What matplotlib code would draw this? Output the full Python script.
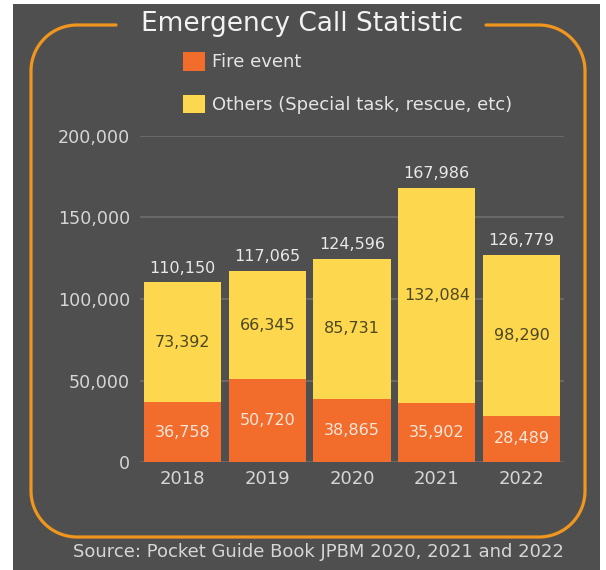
import numpy as np
import matplotlib
matplotlib.use("Agg")
import matplotlib.pyplot as plt
from matplotlib.lines import Line2D
from matplotlib.patches import Rectangle
from matplotlib.transforms import IdentityTransform
from matplotlib.ticker import FuncFormatter

years = ["2018", "2019", "2020", "2021", "2022"]
fire_events = [36758, 50720, 38865, 35902, 28489]
other_calls = [73392, 66345, 85731, 132084, 98290]
totals = [110150, 117065, 124596, 167986, 126779]
y_ticks = [0, 50000, 100000, 150000, 200000]

title = "Emergency Call Statistic"
fire_label = "Fire event"
other_label = "Others (Special task, rescue, etc)"
source = "Source: Pocket Guide Book JPBM 2020, 2021 and 2022"

W, H = 606, 570
BG = "#4f4f4f"
FRAME = "#f0961e"
FIRE = "#f26d2b"
OTHER = "#fdd84e"

plt.rcParams["font.family"] = ["DejaVu Sans"]

fig = plt.figure(figsize=(W / 100, H / 100), dpi=100, facecolor="white")


def fx(px):
    return px / W


def fy(py):
    return 1 - py / H


# dark panel
fig.add_artist(Rectangle((fx(13), fy(570)), fx(600) - fx(13), fy(4) - fy(570),
                         transform=fig.transFigure, facecolor=BG, edgecolor="none", zorder=0))

# rounded orange frame with a gap for the title
L, R, T, B, r = 31, 585, 25, 537, 46


def arc(cx, cy, a0, a1):
    t = np.linspace(np.radians(a0), np.radians(a1), 30)
    return cx + r * np.cos(t), cy + r * np.sin(t)


xs, ys = [116], [T]
ax_, ay_ = arc(L + r, T + r, 270, 180)
xs += list(ax_); ys += list(ay_)
ax_, ay_ = arc(L + r, B - r, 180, 90)
xs += list(ax_); ys += list(ay_)
ax_, ay_ = arc(R - r, B - r, 90, 0)
xs += list(ax_); ys += list(ay_)
ax_, ay_ = arc(R - r, T + r, 0, -90)
xs += list(ax_); ys += list(ay_)
xs += [486]; ys += [T]
fig.add_artist(Line2D(np.array(xs), H - np.array(ys), transform=IdentityTransform(),
                      color=FRAME, lw=2.3, solid_capstyle="round", zorder=1))

fig.text(fx(302), fy(24), title, ha="center", va="center", fontsize=19, color="#f2f2f2")
fig.text(fx(318), fy(552), source, ha="center", va="center", fontsize=13, color="#d6d6d6")

ax = fig.add_axes([fx(140), fy(462), fx(564) - fx(140), fy(136) - fy(462)])
ax.set_facecolor("none")
x = np.arange(len(years))
bw = 0.91
fire_bars = ax.bar(x, fire_events, width=bw, color=FIRE, zorder=3, label=fire_label)
other_bars = ax.bar(x, other_calls, width=bw, bottom=fire_events, color=OTHER, zorder=3,
                    label=other_label)

for xi, f, o, t in zip(x, fire_events, other_calls, totals):
    ax.text(xi, f / 2, f"{f:,}", ha="center", va="center", fontsize=11.5, color="#fde5da", zorder=4)
    ax.text(xi, f + o / 2, f"{o:,}", ha="center", va="center", fontsize=11.5, color="#4d4721", zorder=4)
    ax.annotate(f"{t:,}", (xi, t), xytext=(0, 5), textcoords="offset points",
                ha="center", va="bottom", fontsize=11.5, color="#e8e8e8")

ax.set_xlim(-0.5, len(years) - 0.5)
ax.set_ylim(0, 200000)
ax.set_yticks(y_ticks)
ax.yaxis.set_major_formatter(FuncFormatter(lambda v, p: f"{int(v):,}"))
ax.set_xticks(x)
ax.set_xticklabels(years)
ax.tick_params(axis="y", length=0, labelsize=12.6, colors="#d6d6d6", pad=7)
ax.tick_params(axis="x", length=0, labelsize=13, colors="#d6d6d6", pad=6)
for s in ax.spines.values():
    s.set_visible(False)
for v in y_ticks:
    ax.axhline(v, color="#6e6e6e", lw=1.2, zorder=1)

leg = fig.legend(handles=[fire_bars, other_bars], loc="upper left",
                 bbox_to_anchor=(fx(183), fy(52)), frameon=False, fontsize=13,
                 labelcolor="#e4e4e4", handlelength=1.2, handleheight=1.2,
                 handletextpad=0.4, labelspacing=1.3, borderpad=0, borderaxespad=0)

fig.savefig("out.png", dpi=100, facecolor="white")
